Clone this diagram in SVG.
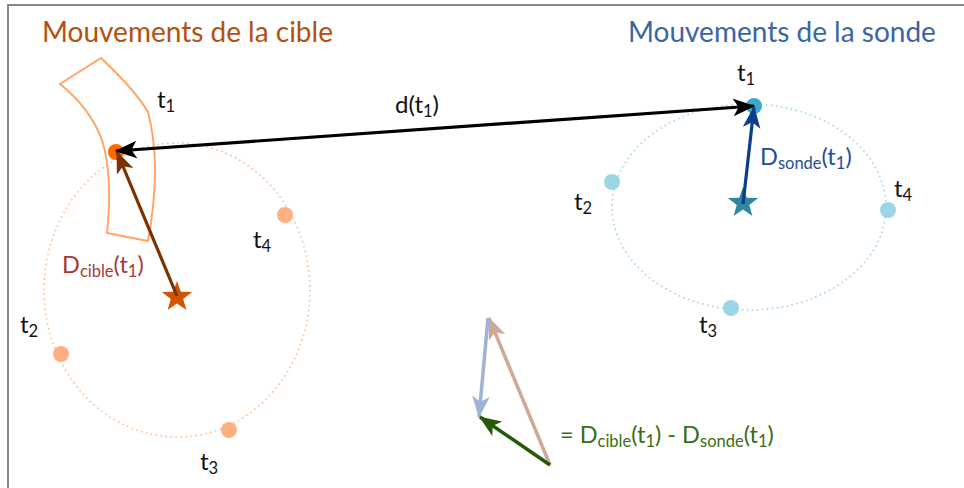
<svg xmlns="http://www.w3.org/2000/svg" width="964" height="488" viewBox="0 0 964 488">
<style>
text{font-family:Lato,"Open Sans","Liberation Sans",sans-serif}
.t{font-size:24px;fill:#111}
.sub{font-size:16.5px}
.title{font-size:28px}
.lbl{font-size:23.5px}
.dot{fill:none;stroke-width:1.6;stroke-dasharray:1.5 3.5}
</style>
<defs>
<marker id="mkb" viewBox="0 0 20 16" refX="19" refY="8" markerWidth="22" markerHeight="18" markerUnits="userSpaceOnUse" orient="auto-start-reverse">
<path d="M0,0 L20,8 L0,16 L5,8 Z" fill="#000"/>
</marker>
<marker id="mkbr" viewBox="0 0 20 16" refX="19" refY="8" markerWidth="22" markerHeight="18" markerUnits="userSpaceOnUse" orient="auto">
<path d="M0,0 L20,8 L0,16 L5,8 Z" fill="#7a3300"/>
</marker>
<marker id="mkdb" viewBox="0 0 20 16" refX="19" refY="8" markerWidth="22" markerHeight="18" markerUnits="userSpaceOnUse" orient="auto">
<path d="M0,0 L20,8 L0,16 L5,8 Z" fill="#0b3d8c"/>
</marker>
<marker id="mktan" viewBox="0 0 20 16" refX="19" refY="8" markerWidth="22" markerHeight="18" markerUnits="userSpaceOnUse" orient="auto">
<path d="M0,0 L20,8 L0,16 L5,8 Z" fill="#cdaa98"/>
</marker>
<marker id="mklb" viewBox="0 0 20 16" refX="19" refY="8" markerWidth="22" markerHeight="18" markerUnits="userSpaceOnUse" orient="auto">
<path d="M0,0 L20,8 L0,16 L5,8 Z" fill="#9fb3d6"/>
</marker>
<marker id="mkg" viewBox="0 0 20 16" refX="19" refY="8" markerWidth="22" markerHeight="18" markerUnits="userSpaceOnUse" orient="auto">
<path d="M0,0 L20,8 L0,16 L5,8 Z" fill="#245a05"/>
</marker>
<path id="star" d="M0,-16 L3.8,-5.3 L15.2,-5 L6.2,2 L9.4,13 L0,6.5 L-9.4,13 L-6.2,2 L-15.2,-5 L-3.8,-5.3 Z"/>
</defs>
<rect x="8" y="5" width="970" height="500" fill="#fff" stroke="#888" stroke-width="2"/>

<g id="cible">
<text class="title" x="42" y="42" fill="#b5500f">Mouvements de la cible</text>
<ellipse class="dot" cx="177" cy="290" rx="133" ry="147" stroke="#ffb98a"/>
<path d="M60,84 L101,58 Q135,90 148,112 Q162,165 148,241 L107,233 Q113,175 102,140 Q90,108 60,84 Z" fill="none" stroke="#ffa566" stroke-width="2"/>
<circle cx="116" cy="152" r="8" fill="#ff6a00"/>
<circle cx="61" cy="354" r="8" fill="#ffb080"/>
<circle cx="229" cy="430" r="8" fill="#ffb080"/>
<circle cx="285" cy="215" r="8" fill="#ffb080"/>
<use href="#star" x="177" y="297" fill="#d35400"/>
<text class="t" x="157" y="108">t<tspan class="sub" dy="4">1</tspan></text>
<text class="t" x="20" y="333">t<tspan class="sub" dy="4">2</tspan></text>
<text class="t" x="200" y="470">t<tspan class="sub" dy="4">3</tspan></text>
<text class="t" x="253" y="248">t<tspan class="sub" dy="4">4</tspan></text>
<text class="lbl" x="62" y="273" fill="#a63a3a">D<tspan class="sub" dy="4">cible</tspan><tspan dy="-4">(t</tspan><tspan class="sub" dy="4">1</tspan><tspan dy="-4">)</tspan></text>
</g>

<g id="sonde">
<text class="title" x="628" y="42" fill="#3a65a8">Mouvements de la sonde</text>
<ellipse class="dot" cx="749" cy="207" rx="137" ry="103" stroke="#9ad6e6"/>
<circle cx="754" cy="106" r="8" fill="#38aacb"/>
<circle cx="612" cy="182" r="8" fill="#9ad6e6"/>
<circle cx="731" cy="308" r="8" fill="#9ad6e6"/>
<circle cx="888" cy="210" r="8" fill="#9ad6e6"/>
<use href="#star" x="743" y="203" fill="#2e86a0"/>
<text class="t" x="737" y="81">t<tspan class="sub" dy="4">1</tspan></text>
<text class="t" x="574" y="210">t<tspan class="sub" dy="4">2</tspan></text>
<text class="t" x="699" y="333">t<tspan class="sub" dy="4">3</tspan></text>
<text class="t" x="894" y="197">t<tspan class="sub" dy="4">4</tspan></text>
<text class="lbl" x="760" y="165" fill="#1f4e9a">D<tspan class="sub" dy="4">sonde</tspan><tspan dy="-4">(t</tspan><tspan class="sub" dy="4">1</tspan><tspan dy="-4">)</tspan></text>
</g>

<g id="connectors">
<line x1="116" y1="151" x2="754" y2="106" stroke="#000" stroke-width="3.2" marker-start="url(#mkb)" marker-end="url(#mkb)"/>
<line x1="177" y1="296" x2="117" y2="152" stroke="#7a3300" stroke-width="3.2" marker-end="url(#mkbr)"/>
<line x1="743" y1="204" x2="754" y2="107" stroke="#0b3d8c" stroke-width="3.2" marker-end="url(#mkdb)"/>
<line x1="550" y1="465" x2="489" y2="318" stroke="#cdaa98" stroke-width="3.5" marker-end="url(#mktan)"/>
<line x1="488" y1="318" x2="479" y2="417" stroke="#9fb3d6" stroke-width="3.5" marker-end="url(#mklb)"/>
<line x1="550" y1="465" x2="480" y2="417" stroke="#245a05" stroke-width="3.5" marker-end="url(#mkg)"/>
</g>
<g id="labels">
<text class="t" x="395" y="113">d(t<tspan class="sub" dy="4">1</tspan><tspan dy="-4">)</tspan></text>
<text class="lbl" x="560" y="443" fill="#3a6e14">= D<tspan class="sub" dy="4">cible</tspan><tspan dy="-4">(t</tspan><tspan class="sub" dy="4">1</tspan><tspan dy="-4">) - D</tspan><tspan class="sub" dy="4">sonde</tspan><tspan dy="-4">(t</tspan><tspan class="sub" dy="4">1</tspan><tspan dy="-4">)</tspan></text>
</g>
</svg>
